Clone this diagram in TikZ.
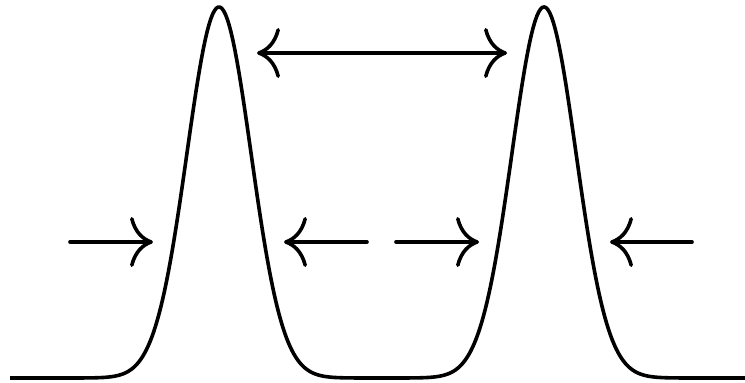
\documentclass[tikz,border=0pt]{standalone}
\usetikzlibrary{arrows.meta}

\begin{document}
\begin{tikzpicture}[
    x=0.05cm, y=0.05cm,
    >={Computer Modern Rightarrow[length=1.15cm, width=2.5cm, round]},
    curve/.style={line width=0.18cm, line join=round},
    push/.style={line width=0.18cm, line cap=round, ->},
    spread/.style={line width=0.18cm, line cap=round, <->},
    declare function={bump(\x,\m)=exp(-0.5*((\x-\m)/32)^2);},
]
\useasboundingbox (0,0) rectangle (745,382);

% two peaks on one baseline
\draw[curve] plot[domain=10:745, samples=400] (\x, {4+371*(bump(\x,219)+bump(\x,544))});

% ends of the arrows
\coordinate (gapL) at (257,329);
\coordinate (gapR) at (507,329);
\coordinate (inA) at (70,140);
\coordinate (tipA) at (153,140);
\coordinate (inB) at (367,140);
\coordinate (tipB) at (284,140);
\coordinate (inC) at (396,140);
\coordinate (tipC) at (479,140);
\coordinate (inD) at (692,140);
\coordinate (tipD) at (610,140);

\draw[spread] (gapL) -- (gapR);
\draw[push] (inA) -- (tipA);
\draw[push] (inB) -- (tipB);
\draw[push] (inC) -- (tipC);
\draw[push] (inD) -- (tipD);
\end{tikzpicture}
\end{document}
